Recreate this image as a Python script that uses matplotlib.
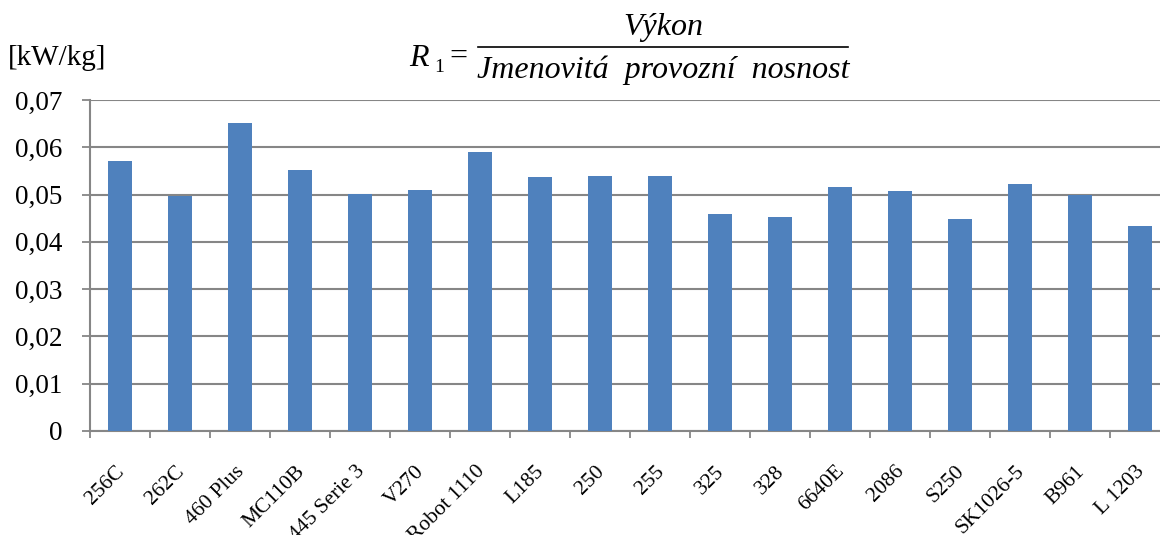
import numpy as np
from matplotlib import pyplot as plt
from matplotlib.ticker import FixedLocator, FuncFormatter
from matplotlib.transforms import ScaledTranslation

# data
nazvy = ["256C", "262C", "460 Plus", "MC110B", "445 Serie 3", "V270", "Robot 1110",
         "L185", "250", "255", "325", "328", "6640E", "2086", "S250", "SK1026-5",
         "B961", "L 1203"]
hodnoty = [0.0571, 0.0497, 0.0652, 0.0551, 0.0502, 0.0510, 0.0590,
           0.0537, 0.0540, 0.0540, 0.0459, 0.0453, 0.0517, 0.0508, 0.0449, 0.0523,
           0.0499, 0.0434]
y_ticks = [0, 0.01, 0.02, 0.03, 0.04, 0.05, 0.06, 0.07]

plt.rcParams['font.family'] = ['Liberation Serif', 'DejaVu Serif']

fig = plt.figure(figsize=(11.6, 5.35), dpi=100)
# plot area runs a bit past the right edge, like in the original
ax = fig.add_axes([90 / 1160, (535 - 431) / 535, 1080 / 1160, 331 / 535])

x = np.arange(len(nazvy))
ax.bar(x, hodnoty, width=0.4, color="#4F81BD", zorder=3)

seda = "#868686"
ax.set_xlim(-0.5, len(nazvy) - 0.5)
ax.set_ylim(0, 0.07)
ax.set_yticks(y_ticks)
ax.yaxis.set_major_formatter(FuncFormatter(lambda v, p: "0" if v == 0 else ("%.2f" % v).replace(".", ",")))
ax.yaxis.grid(True, color=seda, linewidth=1.5, zorder=0)
ax.tick_params(axis="y", labelsize=19.5, length=6, width=1.3, color=seda, pad=14)

# ticks on category boundaries, labels drawn separately on centers
ax.xaxis.set_major_locator(FixedLocator(x - 0.5))
ax.xaxis.set_major_formatter(FuncFormatter(lambda v, p: ""))
ax.tick_params(axis="x", which="major", length=5, width=1.3, color=seda)
posun = ax.get_xaxis_transform() + ScaledTranslation(-0.05, -0.31, fig.dpi_scale_trans)
for xi, n in zip(x, nazvy):
    ax.text(xi, 0, n, transform=posun, fontsize=15.5, rotation=45,
            ha="right", va="top", rotation_mode="anchor")

for s in ["top", "right"]:
    ax.spines[s].set_visible(False)
for s in ["left", "bottom"]:
    ax.spines[s].set_color(seda)
    ax.spines[s].set_linewidth(1.5)

# jednotka
fig.text(8 / 1160, 1 - 58 / 535, "[kW/kg]", fontsize=21, ha="left", va="center")

# vzorec R1 = Vykon / Jmenovita provozni nosnost
fs = 23
fig.text(409 / 1160, 1 - 58 / 535, "R", fontsize=fs, style="italic", ha="left", va="center")
fig.text(434 / 1160, 1 - 67 / 535, "1", fontsize=14, ha="left", va="center")
fig.text(449 / 1160, 1 - 57 / 535, "=", fontsize=fs, ha="left", va="center")
fig.add_artist(plt.Line2D([478 / 1160, 848 / 1160], [1 - 47 / 535, 1 - 47 / 535],
                          color="black", linewidth=1.2))
fig.text(663 / 1160, 1 - 28 / 535, "Výkon", fontsize=fs, style="italic", ha="center", va="center")
fig.text(663 / 1160, 1 - 70 / 535, "Jmenovitá  provozní  nosnost", fontsize=fs, style="italic",
         ha="center", va="center")

fig.savefig("out.png", dpi=100)
